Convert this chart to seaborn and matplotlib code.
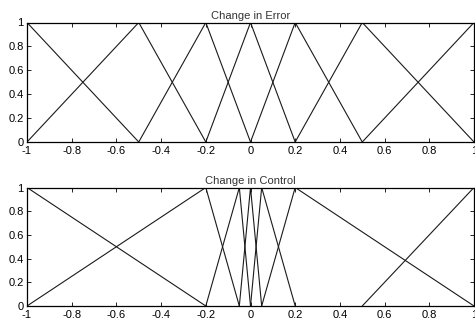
import pandas as pd
import matplotlib.pyplot as plt
import seaborn as sns

# membership function breakpoints (x, y) for each set
error_x = [[-1, -0.5], [-1, -0.5, -0.2], [-0.5, -0.2, 0], [-0.2, 0, 0.2],
           [0, 0.2, 0.5], [0.2, 0.5, 1], [0.5, 1]]
error_y = [[1, 0], [0, 1, 0], [0, 1, 0], [0, 1, 0], [0, 1, 0], [0, 1, 0], [0, 1]]

control_x = [[-1, -0.2], [-1, -0.2, -0.05], [-0.2, -0.05, 0], [-0.05, 0, 0.05],
             [0, 0.05, 0.2], [0.05, 0.2, 1], [0.5, 1]]
control_y = [[1, 0], [0, 1, 0], [0, 1, 0], [0, 1, 0], [0, 1, 0], [0, 1, 0], [0, 1]]

titles = ["Change in Error", "Change in Control"]
xticks = [-1, -0.8, -0.6, -0.4, -0.2, 0, 0.2, 0.4, 0.6, 0.8, 1]
xtick_labels = ["-1", "-0.8", "-0.6", "-0.4", "-0.2", "0", "0.2", "0.4", "0.6", "0.8", "1"]
yticks = [0, 0.2, 0.4, 0.6, 0.8, 1]
ytick_labels = ["0", "0.2", "0.4", "0.6", "0.8", "1"]


def to_frame(xs, ys):
    rows = []
    for i, (xx, yy) in enumerate(zip(xs, ys)):
        for j, (a, b) in enumerate(zip(xx, yy)):
            rows.append({"mf": i, "order": j, "x": a, "y": b})
    return pd.DataFrame(rows)


sns.set_style("white")
plt.rcParams['font.family'] = ['Liberation Sans', 'DejaVu Sans']

fig = plt.figure(figsize=(4.75, 3.22), dpi=100)
ax1 = fig.add_axes([27 / 475, 1 - 142 / 322, 447 / 475, 119.5 / 322])
ax2 = fig.add_axes([27 / 475, 1 - 306 / 322, 447 / 475, 118.5 / 322])

for ax, xs, ys, title in zip([ax1, ax2], [error_x, control_x], [error_y, control_y], titles):
    df = to_frame(xs, ys)
    sns.lineplot(data=df, x="x", y="y", hue="mf", units="mf", estimator=None,
                 sort=False, palette=["#1a1a1a"] * len(xs), legend=False,
                 linewidth=0.8, ax=ax)
    ax.set_xlim(-1, 1)
    ax.set_ylim(0, 1)
    ax.set_xticks(xticks)
    ax.set_xticklabels(xtick_labels)
    ax.set_yticks(yticks)
    ax.set_yticklabels(ytick_labels)
    ax.set_xlabel("")
    ax.set_ylabel("")
    ax.set_title(title, fontsize=8, pad=2.5, color="#333333")
    ax.tick_params(direction="in", length=3, width=0.6, labelsize=8,
                   top=True, right=True, bottom=True, left=True,
                   colors="black")
    ax.tick_params(axis="x", pad=3)
    ax.tick_params(axis="y", pad=2.5)
    for s in ax.spines.values():
        s.set_color("black")
        s.set_linewidth(0.9)

fig.savefig("out.png", dpi=100)
